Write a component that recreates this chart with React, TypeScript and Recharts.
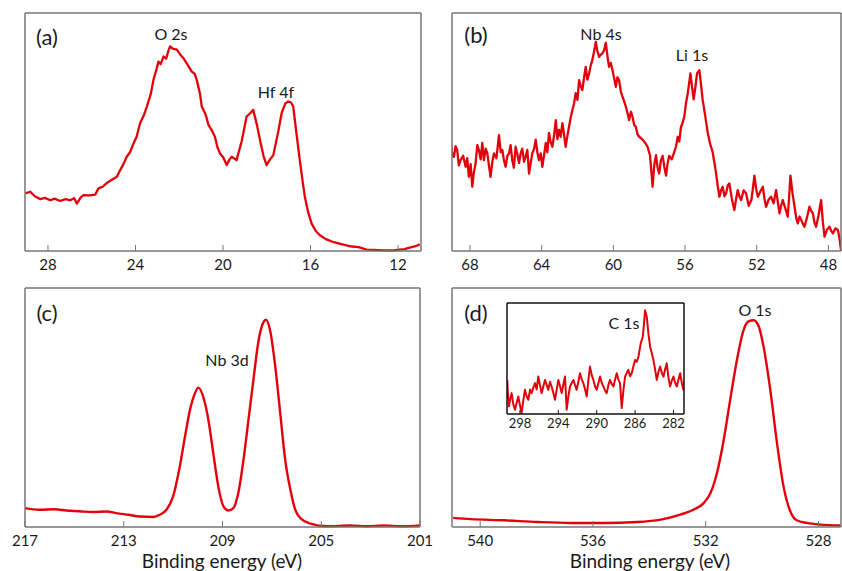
import React from 'react';
import { LineChart, Line, XAxis, YAxis } from 'recharts';

const FONT = 'Lato, "Open Sans", sans-serif';
const RED = '#e3000b';
const FRAME = '#767676';
const TXT = '#1a1a1a';
const W = 842;
const H = 571;

// ---------- (a) O 2s / Hf 4f ----------
const aEnergy = [
  29.03, 28.81, 28.6, 28.35, 28.15, 27.89, 27.7, 27.44, 27.2, 26.98,
  26.8, 26.68, 26.5, 26.37, 26.1, 25.84, 25.69, 25.5, 25.31, 25.1,
  24.85, 24.7, 24.55, 24.4, 24.25, 24.09, 23.95, 23.79, 23.62, 23.48,
  23.3, 23.18, 23.05, 22.95, 22.85, 22.72, 22.6, 22.5, 22.42, 22.3,
  22.11, 21.95, 21.81, 21.6, 21.43, 21.3, 21.2, 21.05, 20.97, 20.8,
  20.66, 20.5, 20.37, 20.25, 20.14, 20.0, 19.83, 19.7, 19.6, 19.38,
  19.15, 18.92, 18.75, 18.62, 18.45, 18.31, 18.15, 18.01, 17.85, 17.7,
  17.5, 17.32, 17.15, 17.02, 16.9, 16.79, 16.65, 16.49, 16.35, 16.26,
  16.1, 15.95, 15.75, 15.57, 15.3, 14.97, 14.6, 14.21, 13.8, 13.44,
  13.1, 12.68, 12.3, 11.92, 11.7, 11.47, 11.2, 11.01,
];
const aIntensity = [
  24.2, 24.9, 23.0, 21.8, 22.3, 21.3, 22.0, 21.0, 21.8, 21.3,
  22.2, 19.9, 22.5, 23.5, 23.4, 23.7, 26.3, 27.0, 28.6, 29.8,
  31.2, 34.0, 36.5, 39.6, 41.5, 45.2, 48.0, 53.7, 57.0, 60.7,
  66.0, 71.9, 76.0, 79.6, 78.5, 81.7, 80.8, 84.0, 86.0, 85.0,
  84.6, 82.5, 81.0, 78.0, 75.4, 74.5, 71.9, 66.0, 60.7, 57.5,
  52.9, 50.5, 48.0, 43.5, 41.0, 39.5, 36.1, 38.5, 39.6, 38.2,
  46.0, 56.5, 58.0, 59.3, 53.0, 46.6, 40.0, 36.1, 38.5, 40.3,
  49.0, 57.9, 62.0, 62.8, 62.5, 60.7, 50.0, 38.2, 28.5, 22.8,
  16.0, 11.5, 8.3, 6.6, 5.0, 3.8, 2.9, 2.0, 1.6, 0.6,
  0.5, 0.3, 0.2, 0.6, 0.8, 1.4, 2.0, 2.8,
];
const aTicks = [28, 24, 20, 16, 12];

// ---------- (b) Nb 4s / Li 1s ----------
const bEnergy = [
  69.05, 68.98, 68.89, 68.80, 68.71, 68.62, 68.52, 68.38, 68.24, 68.15,
  68.06, 67.96, 67.87, 67.78, 67.68, 67.59, 67.50, 67.40, 67.31, 67.22,
  67.12, 67.03, 66.94, 66.85, 66.75, 66.66, 66.52, 66.38, 66.28, 66.19,
  66.10, 66.01, 65.91, 65.82, 65.73, 65.64, 65.55, 65.45, 65.35, 65.26,
  65.17, 65.08, 64.98, 64.89, 64.80, 64.70, 64.61, 64.52, 64.42, 64.33,
  64.24, 64.15, 64.05, 63.96, 63.86, 63.77, 63.68, 63.59, 63.50, 63.40,
  63.30, 63.21, 63.12, 63.03, 62.94, 62.84, 62.75, 62.66, 62.56, 62.47,
  62.38, 62.28, 62.19, 62.10, 62.00, 61.91, 61.82, 61.73, 61.63, 61.54,
  61.45, 61.35, 61.26, 61.17, 61.07, 60.98, 60.89, 60.79, 60.70, 60.61,
  60.51, 60.42, 60.33, 60.24, 60.14, 60.05, 59.95, 59.86, 59.77, 59.68,
  59.58, 59.49, 59.40, 59.30, 59.21, 59.12, 59.02, 58.93, 58.84, 58.75,
  58.65, 58.56, 58.46, 58.37, 58.23, 58.09, 57.95, 57.81, 57.72, 57.62,
  57.53, 57.44, 57.35, 57.25, 57.16, 57.06, 56.97, 56.88, 56.74, 56.60,
  56.50, 56.41, 56.32, 56.23, 56.13, 56.04, 55.95, 55.85, 55.78, 55.70,
  55.61, 55.52, 55.42, 55.33, 55.20, 55.11, 55.02, 54.88, 54.74, 54.60,
  54.46, 54.36, 54.27, 54.17, 54.08, 53.99, 53.90, 53.80, 53.71, 53.62,
  53.53, 53.39, 53.25, 53.15, 53.06, 52.97, 52.87, 52.73, 52.59, 52.45,
  52.30, 52.22, 52.13, 52.03, 51.94, 51.80, 51.66, 51.57, 51.48, 51.34,
  51.20, 51.06, 50.92, 50.82, 50.73, 50.64, 50.55, 50.41, 50.27, 50.20,
  50.12, 50.00, 49.89, 49.80, 49.71, 49.61, 49.52, 49.43, 49.34, 49.20,
  49.06, 48.97, 48.87, 48.78, 48.69, 48.55, 48.41, 48.31, 48.22, 48.08,
  47.94, 47.85, 47.75, 47.61, 47.47, 47.38, 47.29,
];
const bIntensity = [
  44.5, 40.5, 39.6, 44.0, 42.4, 36.0, 38.2, 40.0, 35.4, 39.0,
  31.2, 36.5, 27.0, 33.0, 37.0, 44.5, 42.4, 38.5, 45.4, 38.2,
  43.0, 41.0, 36.0, 31.2, 37.5, 41.0, 39.0, 48.7, 41.5, 42.4,
  38.0, 35.4, 40.0, 41.0, 44.5, 38.2, 35.0, 43.8, 40.5, 37.0,
  41.0, 43.0, 37.5, 39.6, 42.5, 32.5, 37.0, 41.0, 43.0, 46.8,
  41.5, 38.2, 41.0, 35.4, 40.5, 45.4, 41.5, 49.6, 46.0, 43.8,
  49.0, 55.0, 47.0, 50.9, 48.0, 53.7, 49.0, 43.8, 48.5, 52.3,
  56.0, 59.3, 62.0, 66.3, 63.5, 71.8, 69.0, 67.6, 73.0, 77.4,
  72.0, 74.6, 78.0, 80.2, 84.0, 87.9, 84.0, 81.6, 82.5, 83.0,
  84.5, 87.5, 82.0, 77.4, 79.0, 76.0, 72.5, 69.0, 73.0, 71.8,
  67.0, 64.8, 63.0, 60.6, 58.0, 55.0, 58.5, 56.4, 53.0, 52.3,
  49.0, 48.0, 47.5, 46.8, 45.5, 43.8, 40.0, 27.0, 36.0, 40.3,
  35.0, 32.6, 38.0, 40.0, 35.5, 31.7, 37.0, 40.0, 38.5, 41.6,
  44.0, 48.0, 46.0, 52.0, 54.0, 56.5, 62.0, 66.2, 70.0, 74.6,
  69.0, 63.7, 69.0, 74.6, 76.0, 70.0, 63.7, 57.0, 50.0, 45.0,
  41.6, 37.0, 32.6, 27.0, 22.8, 25.5, 27.0, 23.0, 24.2, 27.5,
  28.4, 22.0, 17.2, 22.0, 25.6, 23.0, 21.4, 25.5, 24.2, 19.0,
  21.4, 26.0, 31.7, 26.0, 22.8, 25.0, 27.0, 22.0, 18.6, 21.5,
  22.8, 20.0, 25.6, 20.5, 15.8, 19.0, 21.4, 18.0, 14.4, 22.0,
  31.7, 24.0, 18.6, 14.0, 11.6, 14.5, 13.0, 11.5, 10.2, 14.0,
  18.6, 17.0, 15.8, 12.0, 10.2, 15.0, 21.4, 12.0, 6.0, 9.0,
  10.2, 8.5, 7.4, 9.5, 8.8, 5.0, 0.0,
];
const bTicks = [68, 64, 60, 56, 52, 48];

// ---------- (c) Nb 3d ----------
const cEnergy = [
  217.0, 216.42, 215.8, 215.33, 214.8, 214.25, 213.7, 213.3, 212.8, 212.35,
  211.81, 211.54, 211.27, 211.0, 210.73, 210.52, 210.32, 210.12, 209.98, 209.78,
  209.57, 209.37, 209.17, 208.96, 208.76, 208.56, 208.36, 208.15, 207.95, 207.75,
  207.54, 207.34, 207.24, 207.07, 206.86, 206.66, 206.46, 206.25, 206.05, 205.85,
  205.44, 204.76, 203.82, 203.14, 202.46, 201.78, 201.0,
];
const cIntensity = [
  7.9, 7.2, 7.4, 6.9, 6.6, 6.25, 6.5, 5.8, 5.1, 4.4,
  4.2, 5.1, 7.2, 12.8, 25.3, 37.8, 48.9, 55.8, 58.3, 54.4,
  44.7, 30.6, 16.9, 8.6, 6.9, 7.9, 14.2, 28.1, 44.7, 61.4,
  78.0, 85.7, 86.7, 82.2, 66.9, 47.5, 28.1, 15.6, 7.2, 3.75,
  1.4, 0.3, 0.6, 0.3, 0.6, 0.3, 0.7,
];
const cTicks = [217, 213, 209, 205, 201];

// ---------- (d) O 1s ----------
const dEnergy = [
  540.96, 540.33, 539.15, 537.97, 536.79, 535.61, 534.43, 533.6, 532.9, 532.42,
  532.07, 531.83, 531.6, 531.36, 531.13, 530.89, 530.65, 530.48, 530.3, 530.12,
  529.95, 529.71, 529.47, 529.24, 529.0, 528.77, 528.41, 527.94, 527.21,
];
const dIntensity = [
  3.8, 3.3, 2.8, 2.1, 1.7, 1.7, 2.1, 3.1, 5.2, 7.3,
  10.0, 14.2, 22.6, 36.5, 53.3, 70.0, 82.6, 86.0, 86.5, 84.0,
  75.6, 57.5, 35.1, 17.0, 6.6, 2.8, 1.7, 1.0, 0.6,
];
const dTicks = [540, 536, 532, 528];

// ---------- (d) inset C 1s ----------
const insetEnergy = [
  299.32, 299.24, 299.15, 299.01, 298.87, 298.70, 298.52, 298.35, 298.17, 298.00,
  297.83, 297.65, 297.48, 297.30, 297.13, 296.95, 296.78, 296.60, 296.43, 296.26,
  296.09, 295.91, 295.74, 295.56, 295.39, 295.21, 295.04, 294.87, 294.70, 294.52,
  294.35, 294.17, 294.00, 293.82, 293.65, 293.47, 293.30, 293.13, 292.95, 292.78,
  292.60, 292.43, 292.26, 292.09, 291.91, 291.74, 291.56, 291.39, 291.21, 291.04,
  290.87, 290.70, 290.52, 290.35, 290.17, 290.00, 289.82, 289.65, 289.47, 289.30,
  289.13, 288.96, 288.78, 288.61, 288.43, 288.26, 288.08, 287.91, 287.74, 287.57,
  287.39, 287.21, 287.04, 286.87, 286.70, 286.52, 286.35, 286.17, 286.00, 285.82,
  285.65, 285.41, 285.20, 285.08, 284.96, 284.78, 284.61, 284.43, 284.26, 284.09,
  283.91, 283.74, 283.56, 283.39, 283.21, 283.04, 282.87, 282.70, 282.52, 282.35,
  282.17, 282.00, 281.82, 281.65, 281.47, 281.30, 281.13, 280.96, 280.85,
];
const insetIntensity = [
  30.7, 15.0, 6.9, 14.0, 18.8, 9.0, 3.9, 10.0, 15.8, 8.0,
  0.9, 12.0, 21.8, 16.0, 12.8, 22.0, 18.8, 24.0, 27.8, 22.0,
  33.7, 26.0, 18.8, 25.0, 30.7, 26.0, 21.8, 29.0, 24.8, 19.0,
  12.8, 22.0, 30.7, 25.0, 18.8, 27.0, 33.7, 3.9, 16.0, 24.8,
  28.0, 30.7, 26.0, 21.8, 29.0, 36.7, 31.0, 27.8, 22.0, 15.8,
  30.0, 42.7, 35.0, 30.7, 25.0, 21.8, 28.0, 33.7, 28.0, 24.8,
  21.0, 18.8, 26.0, 30.7, 27.0, 24.8, 31.0, 36.7, 31.0, 27.8,
  5.4, 22.0, 33.7, 37.0, 39.7, 34.0, 36.7, 43.0, 48.7, 47.0,
  51.6, 63.6, 69.6, 80.0, 93.4, 87.5, 72.5, 60.6, 55.0, 48.7,
  40.0, 30.7, 38.0, 42.7, 37.0, 33.7, 40.0, 45.7, 33.0, 24.8,
  30.0, 33.7, 28.0, 24.8, 31.0, 36.7, 28.0, 21.8, 30.7,
];
const insetTicks = [298, 294, 290, 286, 282];

const toRows = (e: number[], v: number[]) => e.map((x, i) => ({ e: x, v: v[i] }));

type Box = { x0: number; y0: number; x1: number; y1: number };

function InTick(props: any) {
  const { x, y, payload, len, fs, dy, lineColor } = props;
  return (
    <g>
      <line x1={x} x2={x} y1={y} y2={y - len} stroke={lineColor} strokeWidth={1} />
      <text x={x} y={y + dy} textAnchor="middle" fontSize={fs} fill={TXT} fontFamily={FONT}>
        {payload.value}
      </text>
    </g>
  );
}

function Panel(props: {
  box: Box;
  energy: number[];
  intensity: number[];
  domain: [number, number];
  ticks: number[];
  curve: 'linear' | 'monotone';
  sw: number;
  frame: string;
  frameW: number;
  fs: number;
  dy: number;
  len: number;
}) {
  const { box, energy, intensity, domain, ticks, curve, sw, frame, frameW, fs, dy, len } = props;
  const data = toRows(energy, intensity);
  return (
    <div style={{ position: 'absolute', left: 0, top: 0, width: W, height: H }}>
      <LineChart
        width={W}
        height={H}
        data={data}
        margin={{ top: box.y0 - 1, left: box.x0 - 1, right: W - box.x1 - 1, bottom: H - box.y1 - 1 }}
        style={{ overflow: 'visible' }}
      >
        <XAxis
          xAxisId="b"
          dataKey="e"
          type="number"
          domain={domain}
          reversed
          allowDataOverflow
          ticks={ticks}
          interval={0}
          height={1}
          tickSize={0}
          tickMargin={0}
          tickLine={false}
          axisLine={{ stroke: frame, strokeWidth: frameW }}
          tick={(p: any) => <InTick {...p} len={len} fs={fs} dy={dy} lineColor={frame} />}
        />
        <XAxis
          xAxisId="t"
          orientation="top"
          dataKey="e"
          type="number"
          domain={domain}
          reversed
          allowDataOverflow
          height={1}
          tick={false}
          tickLine={false}
          axisLine={{ stroke: frame, strokeWidth: frameW }}
        />
        <YAxis
          yAxisId="l"
          type="number"
          domain={[0, 100]}
          width={1}
          tick={false}
          tickLine={false}
          axisLine={{ stroke: frame, strokeWidth: frameW }}
        />
        <YAxis
          yAxisId="r"
          orientation="right"
          type="number"
          domain={[0, 100]}
          width={1}
          tick={false}
          tickLine={false}
          axisLine={{ stroke: frame, strokeWidth: frameW }}
        />
        <Line
          xAxisId="b"
          yAxisId="l"
          dataKey="v"
          type={curve}
          stroke={RED}
          strokeWidth={sw}
          strokeLinejoin="round"
          dot={false}
          isAnimationActive={false}
        />
      </LineChart>
    </div>
  );
}

const labels: { t: string; x: number; y: number; fs: number }[] = [
  { t: '(a)', x: 47, y: 36, fs: 22 },
  { t: 'O 2s', x: 171, y: 33, fs: 16 },
  { t: 'Hf 4f', x: 276, y: 91, fs: 16 },
  { t: '(b)', x: 476, y: 34, fs: 22 },
  { t: 'Nb 4s', x: 601, y: 33, fs: 16 },
  { t: 'Li 1s', x: 692, y: 54, fs: 16 },
  { t: '(c)', x: 47, y: 312, fs: 22 },
  { t: 'Nb 3d', x: 227, y: 359, fs: 16 },
  { t: '(d)', x: 476, y: 312, fs: 22 },
  { t: 'O 1s', x: 755, y: 309, fs: 16 },
  { t: 'C 1s', x: 624, y: 322, fs: 16 },
  { t: 'Binding energy (eV)', x: 222, y: 560, fs: 19 },
  { t: 'Binding energy (eV)', x: 650, y: 560, fs: 19 },
];

export default function App() {
  return (
    <div
      style={{
        position: 'absolute',
        left: 0,
        top: 0,
        width: W,
        height: H,
        background: '#fff',
        overflow: 'hidden',
        fontFamily: FONT,
      }}
    >
      <Panel box={{ x0: 25, y0: 13, x1: 421, y1: 251 }} energy={aEnergy} intensity={aIntensity}
        domain={[10.95, 29.05]} ticks={aTicks} curve="linear" sw={2.3} frame={FRAME} frameW={1.5} fs={15} dy={19} len={6} />
      <Panel box={{ x0: 452, y0: 13, x1: 841, y1: 251 }} energy={bEnergy} intensity={bIntensity}
        domain={[47.3, 69]} ticks={bTicks} curve="linear" sw={2.3} frame={FRAME} frameW={1.5} fs={15} dy={19} len={6} />
      <Panel box={{ x0: 25, y0: 288, x1: 420, y1: 527 }} energy={cEnergy} intensity={cIntensity}
        domain={[201, 217]} ticks={cTicks} curve="monotone" sw={2.4} frame={FRAME} frameW={1.5} fs={15} dy={19} len={6} />
      <Panel box={{ x0: 452, y0: 288, x1: 841, y1: 527 }} energy={dEnergy} intensity={dIntensity}
        domain={[527.2, 541]} ticks={dTicks} curve="monotone" sw={2.4} frame={FRAME} frameW={1.5} fs={15} dy={19} len={6} />
      <Panel box={{ x0: 507, y0: 303, x1: 684, y1: 414 }} energy={insetEnergy} intensity={insetIntensity}
        domain={[280.9, 299.35]} ticks={insetTicks} curve="linear" sw={2} frame="#111" frameW={1.5} fs={13} dy={14} len={4} />
      <svg width={W} height={H} style={{ position: 'absolute', left: 0, top: 0 }}>
        {labels.map((l, i) => (
          <text key={i} x={l.x} y={l.y} fontSize={l.fs} fill={TXT} fontFamily={FONT}
            textAnchor="middle" dominantBaseline="central">
            {l.t}
          </text>
        ))}
      </svg>
    </div>
  );
}
